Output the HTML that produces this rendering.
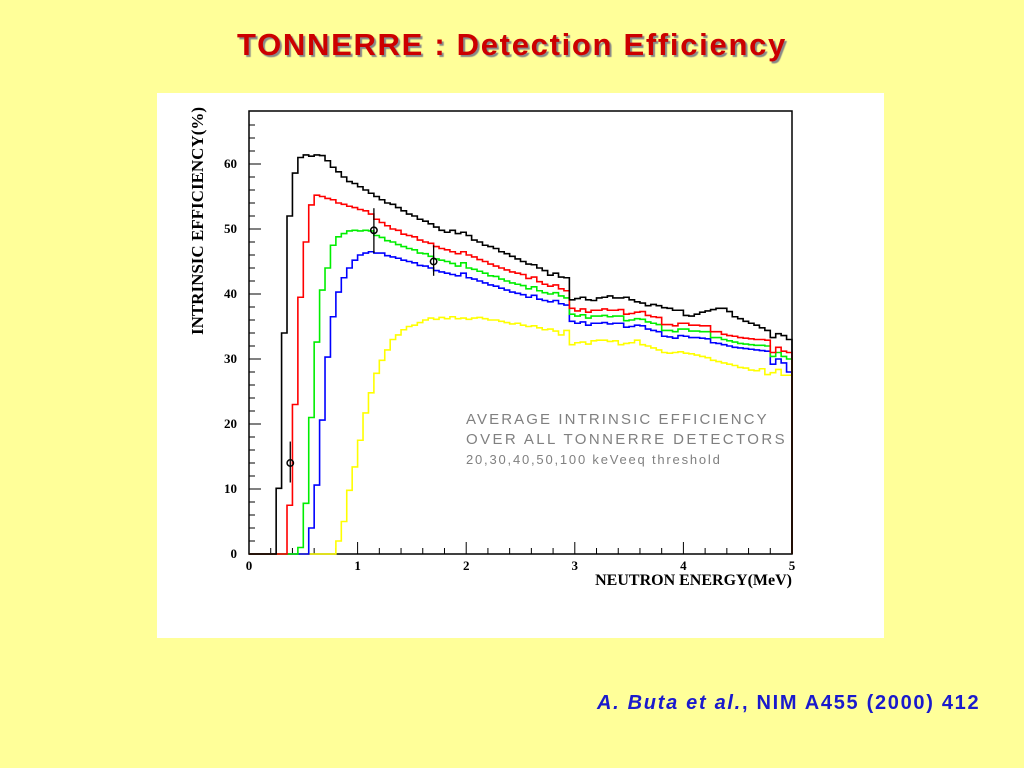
<!DOCTYPE html>
<html><head><meta charset="utf-8"><style>
body{margin:0;width:1024px;height:768px;background:#ffff99;position:relative;overflow:hidden;font-family:"Liberation Sans",sans-serif}
#title{position:absolute;left:0;width:1024px;top:27px;text-align:center;font-size:31px;letter-spacing:1.7px;font-weight:bold;color:#cc0000;text-shadow:2px 2px 1px #888}
#panel{position:absolute;left:157px;top:93px;width:727px;height:545px;background:#fff}
#cite{position:absolute;left:597px;top:692px;font-size:20px;letter-spacing:1.7px;font-weight:bold;color:#1a1acc;white-space:nowrap}
svg{position:absolute;left:0;top:0}
</style></head><body>
<div id="title">TONNERRE : Detection Efficiency</div>
<div id="panel"></div>
<svg id="chart" width="1024" height="768"></svg>
<div id="cite"><i>A. Buta et al.</i>, NIM A455 (2000) 412</div>
<script>
const binWidth = 0.05;
const black = [0,0,0,0,0,10.1,34,52,58.6,61,61.4,61.2,61.4,61.3,60.5,59.5,58.8,58,57.3,57,56.5,56,55.5,55,54.5,54,53.8,53.3,52.8,52.3,52,51.5,51.2,50.8,50.3,49.8,49.5,49.8,49.3,49.5,49,48.3,48,47.5,47.3,47,46.5,46.2,45.8,45.4,45,44.6,44.5,44,43.6,42.9,43.2,42.6,42.5,39.1,39.3,39.5,39.1,39,39.4,39.5,39.7,39.4,39.4,39.5,39.1,38.8,38.6,38.2,38.4,38.2,37.9,37.8,37.5,37.5,36.7,36.6,36.9,37.2,37.4,37.6,37.8,37.8,37.3,36.5,36.2,35.8,35.5,35.2,34.8,34.4,33.3,33.9,33.6,33];
const red = [0,0,0,0,0,0,0,7.5,23,39.5,48,53.7,55.2,55,54.7,54.5,54,53.8,53.5,53.3,53,52.8,52.3,51.5,51,50.5,50,49.8,49.2,49,48.8,48.3,48,47.8,47.3,47,46.8,46.5,46.2,46.5,46,45.7,45.3,45,44.6,44.3,44,43.7,43.4,43.2,43,42.4,42.6,41.9,41.5,41.2,41.4,40.8,40.5,37.8,37.4,37.7,37.2,37.5,37.5,37.7,37.5,37.5,37.6,36.9,37,37.2,37.3,36.7,36.5,36.4,35.3,35.3,35.1,35.5,35.5,35.2,35.2,35.1,35.1,34.2,34.2,33.8,33.6,33.5,33.3,33.2,33.1,33,33,32.9,31,31.8,31.2,31];
const green = [0,0,0,0,0,0,0,0,0,1,7.8,21,32.6,40.6,44,47.5,48.8,49.3,49.7,49.8,49.7,49.8,49.7,49,48.7,48.2,48,47.6,47.3,47,46.8,46.3,46.2,45.8,45.4,45.2,45,44.7,44.3,44.8,44,43.8,43.5,43.2,42.8,42.7,42.3,42,41.7,41.5,41.3,40.8,41.1,40.5,40.2,40,40.2,39.7,39.4,36.9,36.6,36.8,36.3,36.6,36.6,36.7,36.5,36.6,36.6,35.9,36,36.2,36.1,35.7,35.5,35.3,34.4,34.4,34.2,34.6,34.6,34.3,34.3,34.2,34.2,33.3,33.3,33,32.8,32.6,32.4,32.3,32.2,32.1,32.1,32,30.4,31,30.4,30];
const blue = [0,0,0,0,0,0,0,0,0,0,0,4,10.6,20.6,30.3,36.5,40.3,42.5,44,45.2,46,46.3,46.5,46.3,46.3,45.9,45.7,45.5,45.2,45,44.8,44.4,44.3,44,43.6,43.4,43.2,43,42.8,43.2,42.5,42.3,42,41.7,41.4,41.2,40.9,40.6,40.3,40.1,39.9,39.5,39.8,39.2,39,38.8,39,38.5,38.3,35.8,35.5,35.7,35.2,35.5,35.5,35.6,35.4,35.5,35.5,34.9,35,35.2,35.1,34.6,34.4,34.2,33.5,33.4,33.2,33.6,33.5,33.3,33.3,33.2,33.1,32.5,32.4,32.2,32,31.8,31.7,31.6,31.5,31.4,31.3,31.2,29.2,30,29.4,28];
const yellow = [0,0,0,0,0,0,0,0,0,0,0,0,0,0,0,0,2,5,9.8,13.4,17.5,21.7,24.8,27.8,29.8,31.4,33,33.7,34.5,35,35.2,35.6,36,36.3,36.1,36.4,36.2,36.5,36.2,36.3,36.1,36.3,36.4,36.2,36,36,35.8,35.6,35.4,35.5,35.2,35,35.1,34.8,34.5,34.6,34.3,33.7,34.4,32.2,32.5,32.6,32.3,32.8,32.9,32.9,32.7,32.8,32.2,32.4,32.5,32.9,32.2,32,31.7,31.4,31,30.9,31,31.1,30.9,30.8,30.6,30.4,30.2,29.8,29.6,29.4,29.2,29,28.7,28.6,28.3,28.2,28.5,27.6,27.9,28.4,27.5,27.5];
const errE = [0.38, 1.15, 1.70];
const errY = [14, 49.8, 45];
const errLo = [11, 46.3, 42.8];
const errHi = [17.3, 53.2, 47.5];
const xTicks = [0,1,2,3,4,5];
const yTicks = [0,10,20,30,40,50,60];

const X0=249, X1=792, Y0=554, YTOP=111;
const xs = e => X0 + e/5*(X1-X0);
const ys = v => Y0 - v*6.5;
const NS="http://www.w3.org/2000/svg";
const svg=document.getElementById('chart');
function mk(t,a){const el=document.createElementNS(NS,t);for(const k in a)el.setAttribute(k,a[k]);svg.appendChild(el);return el;}

let f=mk('rect',{x:X0,y:YTOP,width:X1-X0,height:Y0-YTOP,fill:'none',stroke:'#000','stroke-width':1.5});



for(let v=0;v<=66;v+=2){const maj=v%10===0;const t=mk('line',{x1:X0,x2:X0+(maj?12:6),y1:ys(v),y2:ys(v),stroke:'#000','stroke-width':1});

}
for(let e=0;e<=5.001;e+=0.2){const maj=Math.abs(e-Math.round(e))<0.01;const t=mk('line',{x1:xs(e),x2:xs(e),y1:Y0,y2:Y0-(maj?12:6),stroke:'#000','stroke-width':1});

}
yTicks.forEach(v=>{const t=mk('text',{x:X0-12,y:ys(v)+4,'text-anchor':'end','font-family':'Liberation Serif, serif','font-weight':'bold','font-size':13});t.textContent=v;

});
xTicks.forEach(v=>{const t=mk('text',{x:xs(v),y:Y0+16,'text-anchor':'middle','font-family':'Liberation Serif, serif','font-weight':'bold','font-size':13});t.textContent=v;

});

let yt=mk('text',{x:0,y:0,transform:'translate(203,221) rotate(-90)','text-anchor':'middle','font-family':'Liberation Serif, serif','font-weight':'bold','font-size':17});
yt.textContent='INTRINSIC EFFICIENCY(%)';


let xt=mk('text',{x:X1,y:585,'text-anchor':'end','font-family':'Liberation Serif, serif','font-weight':'bold','font-size':16});
xt.textContent='NEUTRON ENERGY(MeV)';



function hist(vals,color,name){
  let d='M'+xs(0)+' '+ys(0);
  vals.forEach((v,i)=>{d+=' L'+xs(i*binWidth)+' '+ys(v)+' L'+xs((i+1)*binWidth)+' '+ys(v);});
  d+=' L'+xs(vals.length*binWidth)+' '+ys(0);
  const p=mk('path',{d:d,fill:'none',stroke:color,'stroke-width':1.6});
  
  
}
hist(yellow,'#ffff00','series-100kev');
hist(blue,'#0000ff','series-50kev');
hist(green,'#00ee00','series-40kev');
hist(red,'#ff0000','series-30kev');
hist(black,'#000000','series-20kev');

errE.forEach((e,i)=>{
  const l=mk('line',{x1:xs(e),x2:xs(e),y1:ys(errLo[i]),y2:ys(errHi[i]),stroke:'#000','stroke-width':1.3});
  
  
  const c=mk('circle',{cx:xs(e),cy:ys(errY[i]),r:3.2,fill:'none',stroke:'#000','stroke-width':1.5});
  
  
});

const notes=[['AVERAGE INTRINSIC EFFICIENCY',466,424,15,2.1],['OVER ALL TONNERRE DETECTORS',466,444,15,2.4],['20,30,40,50,100 keVeeq threshold',466,464,13,1.8]];
notes.forEach(n=>{const t=mk('text',{x:n[1],y:n[2],'font-family':'Liberation Sans, sans-serif','font-size':n[3],fill:'#808080','letter-spacing':n[4]});t.textContent=n[0];

});
</script>
</body></html>
